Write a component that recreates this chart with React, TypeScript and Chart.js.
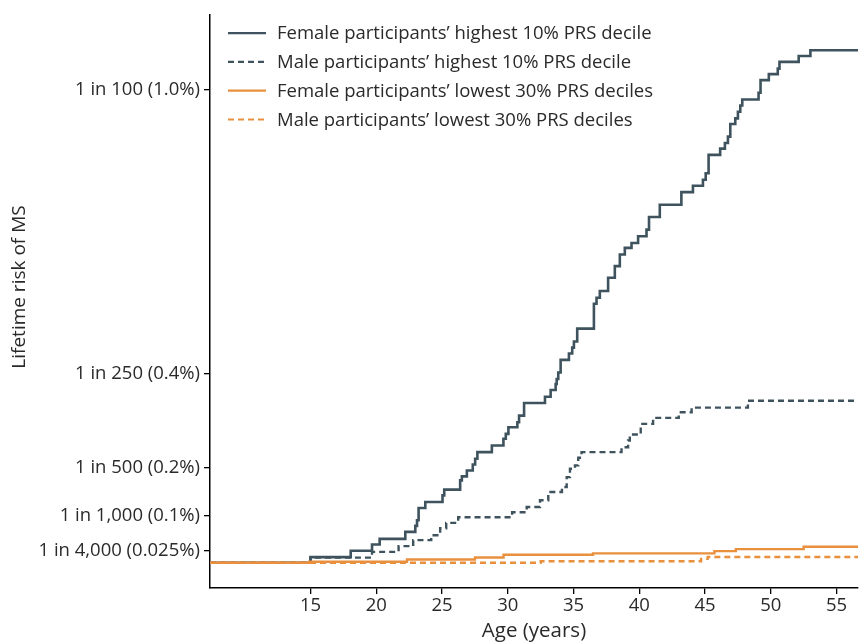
import React, { useEffect, useRef } from 'react';
import { Chart, registerables } from 'chart.js';

Chart.register(...registerables);

// ---- Data ----
const X_MIN = 7.36;
const X_MAX = 56.63;
const Y_MIN = -0.0535;
const Y_MAX = 1.157;

const xTickValues = [15, 20, 25, 30, 35, 40, 45, 50, 55];
const yTickValues = [0.025, 0.1, 0.2, 0.4, 1.0];
const yTickLabels = ['1 in 4,000 (0.025%)', '1 in 1,000 (0.1%)', '1 in 500 (0.2%)', '1 in 250 (0.4%)', '1 in 100 (1.0%)'];

const seriesLabels = [
  'Female participants\u2019 highest 10% PRS decile',
  'Male participants\u2019 highest 10% PRS decile',
  'Female participants\u2019 lowest 30% PRS deciles',
  'Male participants\u2019 lowest 30% PRS deciles',
];

// age (years) at which the cumulative risk (%) steps up
const femaleHighAges = [15.0, 18.06, 19.68, 20.26, 22.21, 22.97, 23.10, 23.22, 23.73, 25.04,
  25.17, 26.38, 26.51, 26.89, 27.34, 27.52, 27.69, 28.79, 29.67, 29.85,
  30.05, 30.73, 30.86, 31.24, 32.83, 33.26, 33.64, 33.72, 33.84, 34.02,
  34.65, 34.90, 35.03, 35.28, 36.55, 36.75, 37.00, 37.63, 38.14, 38.52,
  38.90, 39.41, 39.91, 40.55, 40.74, 41.56, 43.20, 44.08, 44.84, 45.05,
  45.27, 46.15, 46.51, 46.74, 46.92, 47.30, 47.50, 47.68, 47.83, 49.07,
  49.22, 49.85, 50.53, 50.66, 52.12, 53.01];
const femaleHighRisk = [0.0118, 0.0251, 0.0385, 0.0503, 0.0651, 0.0777, 0.0897, 0.1156, 0.1282, 0.1423,
  0.1543, 0.1739, 0.1823, 0.1949, 0.2076, 0.2196, 0.2335, 0.2476, 0.2617, 0.2722,
  0.2861, 0.2966, 0.3107, 0.3375, 0.3507, 0.3648, 0.3775, 0.388, 0.4019, 0.4286,
  0.4419, 0.4545, 0.4672, 0.4945, 0.5472, 0.5598, 0.5739, 0.6019, 0.6265, 0.6512,
  0.6651, 0.6756, 0.6897, 0.7038, 0.7303, 0.7564, 0.7829, 0.7964, 0.8091, 0.8229,
  0.8617, 0.8749, 0.8869, 0.9002, 0.9269, 0.9387, 0.9528, 0.966, 0.9787, 0.9928,
  1.0196, 1.0322, 1.044, 1.0581, 1.0707, 1.0827];

const maleHighAges = [15.0, 19.68, 21.70, 22.81, 24.18, 24.86, 25.32, 26.23, 30.33, 31.44,
  32.45, 33.08, 34.12, 34.48, 34.73, 35.11, 35.36, 35.61, 38.65, 39.15,
  39.28, 40.11, 41.05, 43.0, 43.98, 48.26];
const maleHighRisk = [0.0107, 0.0229, 0.0349, 0.0476, 0.0581, 0.0728, 0.084, 0.096, 0.1065, 0.1177,
  0.1318, 0.1493, 0.1598, 0.1808, 0.1985, 0.2055, 0.2217, 0.2335, 0.244, 0.2581,
  0.2707, 0.2933, 0.3059, 0.3177, 0.3276, 0.3423];

const femaleLowAges = [14.9, 22.34, 27.51, 29.68, 36.48, 45.71, 47.34, 52.5];
const femaleLowRisk = [0.002, 0.0067, 0.011, 0.0167, 0.0196, 0.0244, 0.0286, 0.0337];

const maleLowAges = [32.5, 44.7, 45.2];
const maleLowRisk = [0.003, 0.008, 0.012];

// ---- Styles ----
const DARK = '#3e535d';
const ORANGE = '#e8903e';
const TEXT = '#2a2a2a';
const FONT = '"Open Sans", "Noto Sans", sans-serif';
const DASH = [6, 4];

function stepSeries(ages: number[], risk: number[]) {
  const pts = [{ x: X_MIN, y: 0 }];
  ages.forEach((a, i) => pts.push({ x: a, y: risk[i] }));
  pts.push({ x: X_MAX, y: risk[risk.length - 1] });
  return pts;
}

const legendPlugin = {
  id: 'insideLegend',
  afterDraw(chart: any) {
    const { ctx, chartArea } = chart;
    const styles = [
      { color: DARK, dash: [] as number[] },
      { color: DARK, dash: DASH },
      { color: ORANGE, dash: [] as number[] },
      { color: ORANGE, dash: DASH },
    ];
    ctx.save();
    ctx.font = `18.5px ${FONT}`;
    ctx.textBaseline = 'middle';
    ctx.textAlign = 'left';
    const x0 = chartArea.left + 18;
    const y0 = chartArea.top + 18;
    seriesLabels.forEach((label, i) => {
      const y = y0 + i * 28.8;
      ctx.strokeStyle = styles[i].color;
      ctx.lineWidth = 2.2;
      ctx.setLineDash(styles[i].dash);
      ctx.beginPath();
      ctx.moveTo(x0, y);
      ctx.lineTo(x0 + 38, y);
      ctx.stroke();
      ctx.setLineDash([]);
      ctx.fillStyle = TEXT;
      ctx.fillText(label, x0 + 49, y + 1);
    });
    ctx.restore();
  },
};

const yTitlePlugin = {
  id: 'yTitle',
  afterDraw(chart: any) {
    const { ctx } = chart;
    ctx.save();
    ctx.translate(20, 287);
    ctx.rotate(-Math.PI / 2);
    ctx.font = `19px ${FONT}`;
    ctx.fillStyle = TEXT;
    ctx.textAlign = 'center';
    ctx.textBaseline = 'middle';
    ctx.fillText('Lifetime risk of MS', 0, 0);
    ctx.restore();
  },
};

export default function App() {
  const ref = useRef<HTMLCanvasElement | null>(null);

  useEffect(() => {
    if (!ref.current) return;
    const chart = new Chart(ref.current, {
      type: 'line',
      data: {
        datasets: [
          { label: seriesLabels[0], data: stepSeries(femaleHighAges, femaleHighRisk), borderColor: DARK, borderWidth: 2.6, stepped: 'before', pointRadius: 0, fill: false, order: 3 },
          { label: seriesLabels[1], data: stepSeries(maleHighAges, maleHighRisk), borderColor: DARK, borderWidth: 2.4, borderDash: DASH, stepped: 'before', pointRadius: 0, fill: false, order: 2 },
          { label: seriesLabels[2], data: stepSeries(femaleLowAges, femaleLowRisk), borderColor: ORANGE, borderWidth: 2.4, stepped: 'before', pointRadius: 0, fill: false, order: 0 },
          { label: seriesLabels[3], data: stepSeries(maleLowAges, maleLowRisk), borderColor: ORANGE, borderWidth: 2.4, borderDash: DASH, stepped: 'before', pointRadius: 0, fill: false, order: 1 },
        ],
      },
      options: {
        responsive: false,
        animation: false,
        layout: { padding: { top: 13, right: 2, left: 0, bottom: 0 } },
        plugins: { legend: { display: false }, tooltip: { enabled: false } },
        scales: {
          x: {
            type: 'linear',
            min: X_MIN,
            max: X_MAX,
            afterBuildTicks: (s: any) => { s.ticks = xTickValues.map((v) => ({ value: v })); },
            afterFit: (s: any) => { s.height = 55; },
            ticks: { color: TEXT, font: { family: FONT, size: 18.5 }, padding: 1, maxRotation: 0, autoSkip: false },
            grid: { display: true, drawOnChartArea: false, drawTicks: true, tickLength: 6, color: '#000', lineWidth: 1.3 },
            border: { display: true, color: '#000', width: 1.5 },
            title: { display: true, text: 'Age (years)', color: TEXT, font: { family: FONT, size: 20.5 }, padding: { top: 0, bottom: 0 } },
          },
          y: {
            type: 'linear',
            min: Y_MIN,
            max: Y_MAX,
            afterBuildTicks: (s: any) => { s.ticks = yTickValues.map((v) => ({ value: v })); },
            afterFit: (s: any) => { s.width = 210; },
            ticks: {
              color: TEXT,
              font: { family: FONT, size: 18.5 },
              padding: 4,
              autoSkip: false,
              callback: (v: any) => {
                const i = yTickValues.indexOf(Number(v));
                return i >= 0 ? yTickLabels[i] : '';
              },
            },
            grid: { display: true, drawOnChartArea: false, drawTicks: true, tickLength: 6, color: '#000', lineWidth: 1.3 },
            border: { display: true, color: '#000', width: 1.5 },
          },
        },
      },
      plugins: [legendPlugin, yTitlePlugin],
    } as any);
    let alive = true;
    if ((document as any).fonts) {
      (document as any).fonts.load(`17px "Open Sans"`).then(() => { if (alive) chart.update(); });
    }
    return () => { alive = false; chart.destroy(); };
  }, []);

  return (
    <div style={{ position: 'absolute', left: 0, top: 0, width: 860, height: 643, background: '#fff' }}>
      <canvas ref={ref} width={860} height={643} style={{ display: 'block' }} />
    </div>
  );
}
